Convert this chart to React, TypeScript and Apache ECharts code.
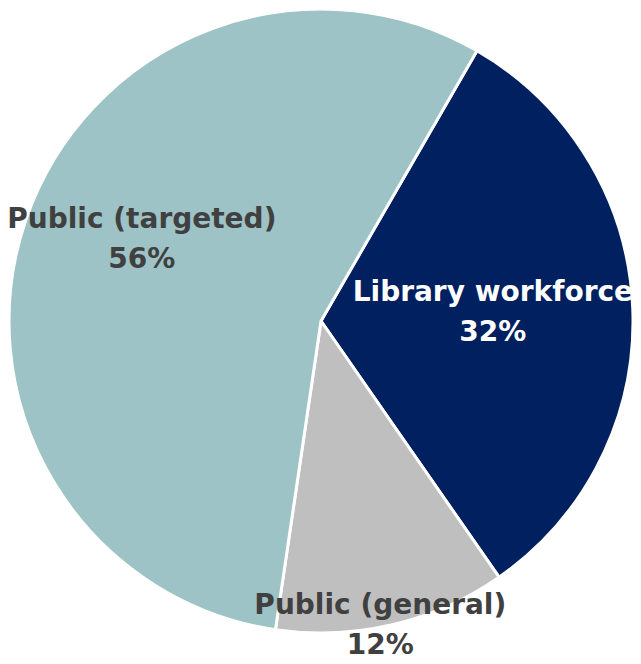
import React, { useEffect, useRef } from "react";
import * as echarts from "echarts";

const categories = ["Library workforce", "Public (general)", "Public (targeted)"];
const values = [32, 12, 56];
const colors = ["#002060", "#BFBFBF", "#9DC3C6"];
const labelColors = ["#FFFFFF", "#404040", "#404040"];
const labelShift = [
  [13, -3],
  [23, 149],
  [-29, -30],
];

export default function App() {
  const ref = useRef<HTMLDivElement>(null);
  useEffect(() => {
    document.body.style.margin = "0";
    const chart = echarts.init(ref.current!, null, { renderer: "svg" });
    chart.setOption({
      animation: false,
      backgroundColor: "#FFFFFF",
      series: [
        {
          type: "pie",
          center: [321, 321],
          radius: [0, 312],
          startAngle: 60,
          clockwise: true,
          avoidLabelOverlap: false,
          itemStyle: { borderColor: "#FFFFFF", borderWidth: 3 },
          label: {
            show: true,
            position: "inside",
            formatter: "{b}\n{c}%",
            fontFamily: "DejaVu Sans",
            fontWeight: "bold",
            fontSize: 28,
            lineHeight: 40,
            align: "center",
          },
          labelLine: { show: false },
          labelLayout: (params: any) => ({
            dx: labelShift[params.dataIndex][0],
            dy: labelShift[params.dataIndex][1],
          }),
          emphasis: { disabled: true },
          data: categories.map((name, i) => ({
            name,
            value: values[i],
            itemStyle: { color: colors[i] },
            label: { color: labelColors[i] },
          })),
        },
      ],
    });
    return () => chart.dispose();
  }, []);
  return <div ref={ref} style={{ width: 641, height: 664 }} />;
}
